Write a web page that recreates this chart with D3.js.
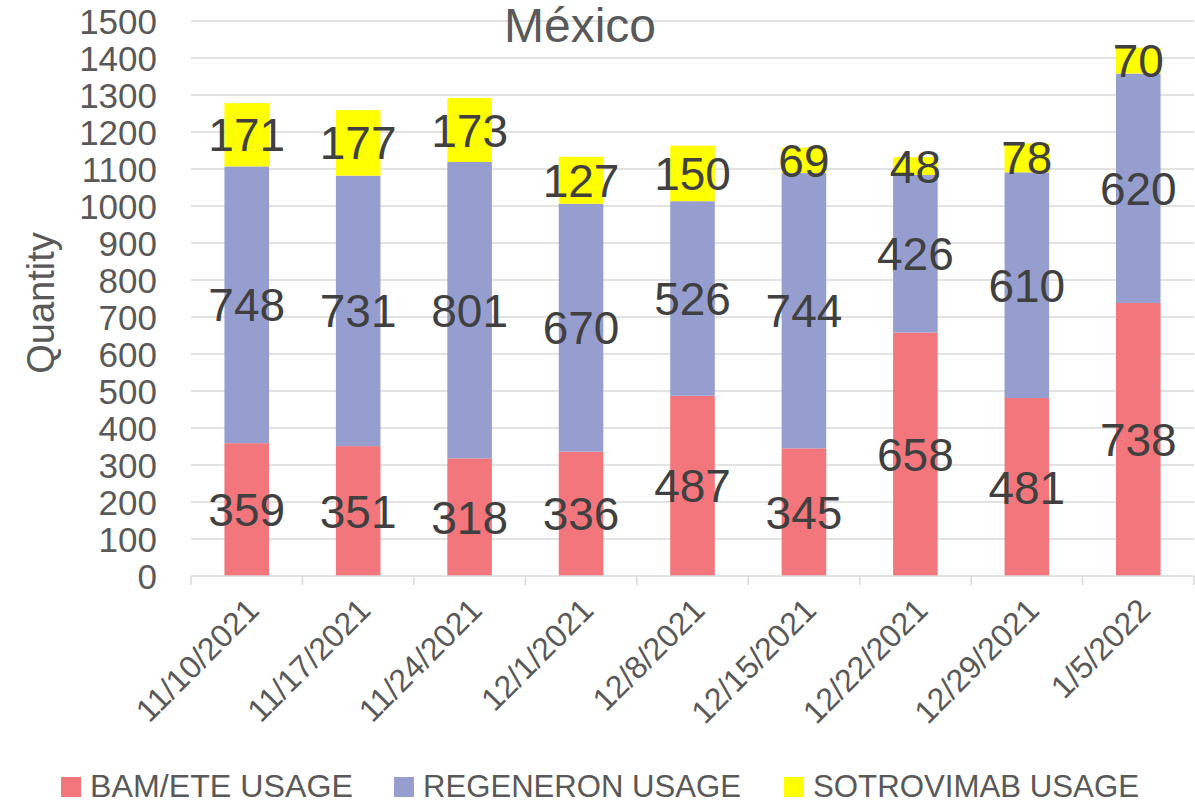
<!DOCTYPE html>
<html>
<head>
<meta charset="utf-8">
<script src="https://cdn.jsdelivr.net/npm/d3@7"></script>
<style>
	body{margin:0;background:#fff;}
	text{font-family:"Liberation Sans",Arial,sans-serif;}
</style>
</head>
<body>
<div id="chart"></div>
<script>
var dates=["11/10/2021","11/17/2021","11/24/2021","12/1/2021","12/8/2021","12/15/2021","12/22/2021","12/29/2021","1/5/2022"];
var bamUsage=[359,351,318,336,487,345,658,481,738];
var regenUsage=[748,731,801,670,526,744,426,610,620];
var sotroUsage=[171,177,173,127,150,69,48,78,70];
var seriesNames=["BAM/ETE USAGE","REGENERON USAGE","SOTROVIMAB USAGE"];
var seriesColors=["#F2767C","#969ECF","#FFFF00"];
var yTicks=[0,100,200,300,400,500,600,700,800,900,1000,1100,1200,1300,1400,1500];

(function(){
	var width=1195,
	height=804;

	var svg=d3.select("#chart")
	.append("svg")
	.attr("width",width)
	.attr("height",height)

	var rows=dates.map(function(d,i){
		return {date:d,bam:bamUsage[i],regen:regenUsage[i],sotro:sotroUsage[i]};
	})
	var keys=["bam","regen","sotro"]
	var stack=d3.stack().keys(keys)(rows)

	var x=d3.scaleBand()
		.domain(dates)
		.range([191,1194])
		.paddingInner(0.6)
		.paddingOuter(0.3)

	var y=d3.scaleLinear()
		.domain([0,1500])
		.range([576,21])

	// gridlines
	svg.append("g")
		.selectAll("line")
		.data(yTicks.slice(1))
		.enter().append("line")
		.attr("x1",191)
		.attr("x2",1194)
		.attr("y1",function(d){return y(d)})
		.attr("y2",function(d){return y(d)})
		.attr("stroke","#D9D9D9")
		.attr("stroke-width",1.5)

	// y labels
	svg.append("g")
		.selectAll("text")
		.data(yTicks)
		.enter().append("text")
		.attr("x",157)
		.attr("y",function(d){return y(d)})
		.attr("dy","0.36em")
		.attr("text-anchor","end")
		.attr("font-size",35)
		.attr("fill","#595959")
		.text(function(d){return d})

	// bars
	var layers=svg.selectAll(".layer")
		.data(stack)
		.enter().append("g")
		.attr("class","layer")
		.attr("fill",function(d,i){return seriesColors[i]})

	layers.selectAll("rect")
		.data(function(d){return d})
		.enter().append("rect")
		.attr("x",function(d){return x(d.data.date)})
		.attr("width",x.bandwidth())
		.attr("y",function(d){return y(d[1])})
		.attr("height",function(d){return y(d[0])-y(d[1])})

	// baseline + ticks
	svg.append("line")
		.attr("x1",191).attr("x2",1194)
		.attr("y1",y(0)).attr("y2",y(0))
		.attr("stroke","#D9D9D9")
		.attr("stroke-width",1.5)

	svg.append("g")
		.selectAll("line")
		.data(d3.range(dates.length+1))
		.enter().append("line")
		.attr("x1",function(i){return x.range()[0]+i*x.step()})
		.attr("x2",function(i){return x.range()[0]+i*x.step()})
		.attr("y1",y(0))
		.attr("y2",y(0)+9)
		.attr("stroke","#D9D9D9")
		.attr("stroke-width",1.5)

	// data labels
	layers.selectAll("text")
		.data(function(d){return d})
		.enter().append("text")
		.attr("x",function(d){return x(d.data.date)+x.bandwidth()/2})
		.attr("y",function(d){return (y(d[0])+y(d[1]))/2})
		.attr("dy","0.36em")
		.attr("text-anchor","middle")
		.attr("font-size",46)
		.attr("fill","#404040")
		.text(function(d){return d[1]-d[0]})

	// x labels
	svg.append("g")
		.selectAll("text")
		.data(dates)
		.enter().append("text")
		.attr("transform",function(d){
			return "translate("+(x(d)+x.bandwidth()/2+6)+",604) rotate(-45)"
		})
		.attr("dy","0.36em")
		.attr("text-anchor","end")
		.attr("font-size",32)
		.attr("fill","#595959")
		.text(function(d){return d})

	// title
	svg.append("text")
		.attr("x",580)
		.attr("y",42)
		.attr("text-anchor","middle")
		.attr("font-size",48)
		.attr("fill","#595959")
		.text("México")

	// y axis title
	svg.append("text")
		.attr("transform","translate(54,303) rotate(-90)")
		.attr("text-anchor","middle")
		.attr("font-size",38)
		.attr("fill","#595959")
		.text("Quantity")

	// legend
	var legendX=[61,394,784]
	var legendW=[263,318,326]
	var legend=svg.selectAll(".legend")
		.data(seriesNames)
		.enter().append("g")
		.attr("class","legend")
		.attr("transform",function(d,i){return "translate("+legendX[i]+",777)"})

	legend.append("rect")
		.attr("width",20)
		.attr("height",20)
		.attr("fill",function(d,i){return seriesColors[i]})

	legend.append("text")
		.attr("x",29)
		.attr("y",20)
		.attr("font-size",31)
		.attr("textLength",function(d,i){return legendW[i]})
		.attr("lengthAdjust","spacingAndGlyphs")
		.attr("fill","#595959")
		.text(function(d){return d})

})();
</script>
</body>
</html>
